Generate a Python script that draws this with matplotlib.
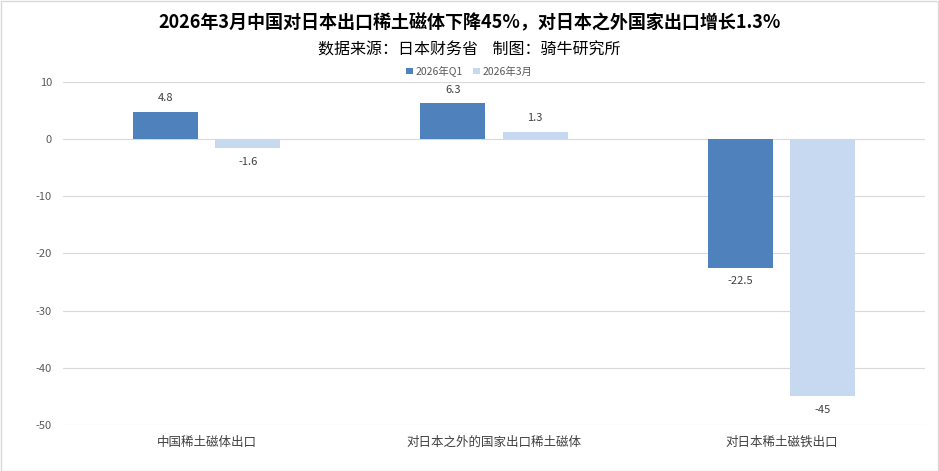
import matplotlib
matplotlib.use("Agg")
import matplotlib.pyplot as plt
import numpy as np

plt.rcParams['font.family'] = ['Noto Sans CJK SC', 'DejaVu Sans']

categories = ['中国稀土磁体出口', '对日本之外的国家出口稀土磁体', '对日本稀土磁铁出口']
series_names = ['2026年Q1', '2026年3月']
q1_values = [4.8, 6.3, -22.5]
mar_values = [-1.6, 1.3, -45]
yticks = [10, 0, -10, -20, -30, -40, -50]

dark = '#4F81BD'
light = '#C6D9F1'

fig = plt.figure(figsize=(9.39, 4.71), dpi=100)
fig.patches.append(plt.Rectangle((0.001, 0.001), 0.998, 0.997, transform=fig.transFigure,
                                 fill=False, edgecolor='#D9D9D9', linewidth=1))
ax = fig.add_axes([0.0671, 0.0977, 0.918, 0.7282])

x = np.arange(len(categories))
w = 0.226
off = 0.143
b1 = ax.bar(x - off, q1_values, w, color=dark, label=series_names[0], zorder=3)
b2 = ax.bar(x + off, mar_values, w, color=light, label=series_names[1], zorder=3)

for bars in (b1, b2):
    for rect in bars:
        v = rect.get_height()
        cx = rect.get_x() + rect.get_width() / 2
        if v >= 0:
            ax.annotate(f'{v:g}', (cx, v), xytext=(0, 6), textcoords='offset points',
                        ha='center', va='bottom', fontsize=8, color='#404040')
        else:
            ax.annotate(f'{v:g}', (cx, v), xytext=(0, -6), textcoords='offset points',
                        ha='center', va='top', fontsize=8, color='#404040')

ax.set_xlim(-0.5, 2.5)
ax.set_ylim(-50, 10)
ax.set_yticks(yticks)
ax.set_yticklabels([str(t) for t in yticks], fontsize=8, color='#595959')
ax.set_xticks(x)
ax.set_xticklabels(categories, fontsize=9, color='#404040')
ax.tick_params(axis='both', length=0)
ax.tick_params(axis='y', pad=8)
ax.tick_params(axis='x', pad=8)
ax.grid(axis='y', color='#D9D9D9', linewidth=0.8, zorder=0)
for s in ax.spines.values():
    s.set_visible(False)

fig.text(0.5, 0.952, '2026年3月中国对日本出口稀土磁体下降45%，对日本之外国家出口增长1.3%',
         ha='center', va='center', fontsize=13, fontweight='bold', color='black')
fig.text(0.5, 0.893, '数据来源：日本财务省    制图：骑牛研究所',
         ha='center', va='center', fontsize=11.5, color='black')
leg = fig.legend(loc='center', bbox_to_anchor=(0.5, 0.849), ncol=2, frameon=False,
                 fontsize=7.5, handlelength=0.6, handleheight=0.6, handletextpad=0.3,
                 columnspacing=1.0)
for t in leg.get_texts():
    t.set_color('#595959')

fig.savefig('out.png', dpi=100)
